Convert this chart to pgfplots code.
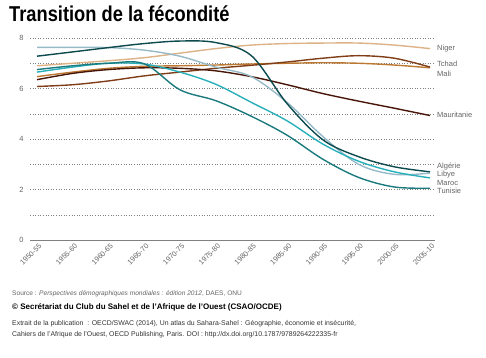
\documentclass[border=0pt]{standalone}
\usepackage{fontspec}
\setmainfont{Liberation Sans}
\newfontfamily\condfont[FakeStretch=0.85]{Liberation Sans}
\usepackage{pgfplots}
\pgfplotsset{compat=1.18}
\definecolor{cNiger}{RGB}{220,178,134}
\definecolor{cTchad}{RGB}{128,62,24}
\definecolor{cMali}{RGB}{188,120,48}
\definecolor{cMaur}{RGB}{72,22,8}
\definecolor{cAlg}{RGB}{12,74,78}
\definecolor{cLib}{RGB}{150,186,200}
\definecolor{cMar}{RGB}{40,176,186}
\definecolor{cTun}{RGB}{26,122,126}
\definecolor{txtgray}{RGB}{100,100,100}
\begin{document}
\begin{tikzpicture}
\useasboundingbox (0,0) rectangle (486pt,357pt);
\node[anchor=base west, inner sep=0, font=\condfont\bfseries\fontsize{21.5}{23}\selectfont] at (9pt,335pt) {Transition de la fécondité};
\begin{axis}[at={(30pt,117pt)}, anchor=south west, scale only axis,
  width=405pt, height=202pt,
  xmin=-0.196, xmax=11.14, ymin=0, ymax=8, clip=false,
  axis lines=left, axis line style={-},
  y axis line style={draw=none},
  x axis line style={draw=gray, line width=0.9pt},
  major tick length=0pt,
  /pgf/number format/assume math mode=true,
  xtick={0,...,11},
  xticklabels={1950-55,1955-60,1960-65,1965-70,1970-75,1975-80,1980-85,1985-90,1990-95,1995-00,2000-05,2005-10},
  xticklabel style={rotate=45, anchor=north east, font=\fontsize{7.3}{8}\selectfont, text=txtgray, inner sep=1pt, yshift=-2pt},
  ytick={0,...,8}, yticklabels={0,,2,,4,,6,,8},
  yticklabel style={font=\fontsize{7.5}{8}\selectfont, text=txtgray, anchor=east, xshift=-3pt},
  ymajorgrids,
  grid style={gray, dash pattern=on 1pt off 1.6pt, line width=0.5pt},
  every axis plot/.append style={smooth, tension=0.55, line width=1.4pt, no markers},
]
\addplot[cNiger] coordinates {(0,6.9)(1,7.0)(2,7.1)(3,7.22)(4,7.4)(5,7.58)(6,7.72)(7,7.78)(8,7.8)(9,7.8)(10,7.72)(11,7.58)};
\addplot[cMali] coordinates {(0,6.47)(1,6.65)(2,6.8)(3,6.88)(4,6.9)(5,6.93)(6,6.97)(7,7.0)(8,7.02)(9,7.0)(10,6.93)(11,6.82)};
\addplot[cTchad] coordinates {(0,6.08)(1,6.15)(2,6.3)(3,6.5)(4,6.65)(5,6.8)(6,6.92)(7,7.05)(8,7.2)(9,7.3)(10,7.2)(11,6.85)};
\addplot[cMaur] coordinates {(0,6.35)(1,6.6)(2,6.75)(3,6.82)(4,6.8)(5,6.7)(6,6.47)(7,6.15)(8,5.8)(9,5.5)(10,5.22)(11,4.93)};
\addplot[cLib] coordinates {(0,7.63)(1,7.63)(2,7.62)(3,7.52)(4,7.28)(5,6.85)(6,6.47)(7,5.45)(8,4.1)(9,3.0)(10,2.6)(11,2.65)};
\addplot[cMar] coordinates {(0,6.65)(1,6.85)(2,7.0)(3,6.97)(4,6.65)(5,6.17)(6,5.45)(7,4.72)(8,3.8)(9,3.12)(10,2.7)(11,2.46)};
\addplot[cTun] coordinates {(0,6.75)(1,6.9)(2,7.0)(3,6.98)(4,5.95)(5,5.52)(6,4.9)(7,4.15)(8,3.2)(9,2.48)(10,2.1)(11,2.05)};
\addplot[cAlg] coordinates {(0,7.28)(1,7.45)(2,7.62)(3,7.78)(4,7.88)(5,7.82)(6,7.3)(7,5.4)(8,3.97)(9,3.3)(10,2.9)(11,2.7)};
\begin{scope}[every node/.style={anchor=west, inner sep=0, font=\fontsize{7.5}{8}\selectfont, text=txtgray}]
\node at (axis cs:11,7.6) [xshift=7pt] {Niger};
\node at (axis cs:11,6.97) [xshift=7pt] {Tchad};
\node at (axis cs:11,6.57) [xshift=7pt] {Mali};
\node at (axis cs:11,4.95) [xshift=7pt] {Mauritanie};
\node at (axis cs:11,2.93) [xshift=7pt] {Algérie};
\node at (axis cs:11,2.6) [xshift=7pt] {Libye};
\node at (axis cs:11,2.27) [xshift=7pt] {Maroc};
\node at (axis cs:11,1.95) [xshift=7pt] {Tunisie};
\end{scope}
\end{axis}
\node[anchor=base west, inner sep=0, font=\fontsize{6.6}{7}\selectfont, text=txtgray] at (12pt,62pt) {Source : \textit{Perspectives démographiques mondiales : édition 2012}, DAES, ONU};
\node[anchor=base west, inner sep=0, font=\bfseries\fontsize{8}{9}\selectfont] at (12pt,48pt) {© Secrétariat du Club du Sahel et de l’Afrique de l’Ouest (CSAO/OCDE)};
\node[anchor=base west, inner sep=0, font=\fontsize{6.9}{8}\selectfont, text=black!80] at (12pt,32pt) {Extrait de la publication~ : OECD/SWAC (2014), Un atlas du Sahara-Sahel : Géographie, économie et insécurité,};
\node[anchor=base west, inner sep=0, font=\fontsize{6.9}{8}\selectfont, text=black!80] at (12pt,21pt) {Cahiers de l’Afrique de l’Ouest, OECD Publishing, Paris. DOI : http://dx.doi.org/10.1787/9789264222335-fr};
\end{tikzpicture}
\end{document}
